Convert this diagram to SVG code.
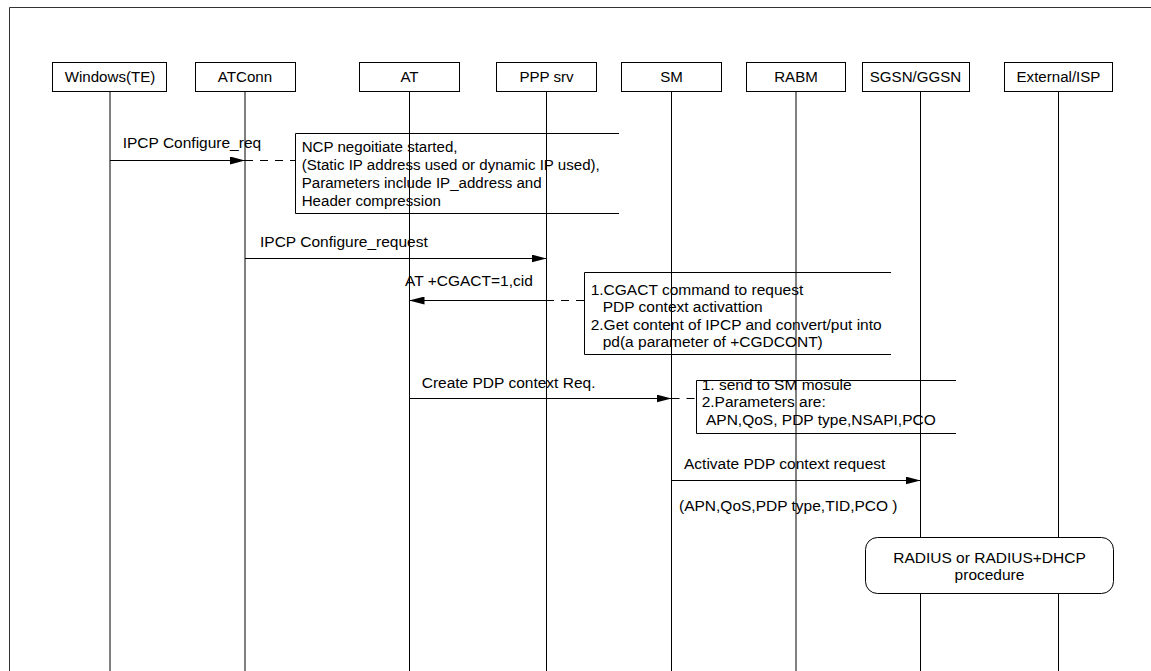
<svg xmlns="http://www.w3.org/2000/svg" width="1151" height="671" viewBox="0 0 1151 671">
<style>
text{font-family:"Liberation Sans",Arial,sans-serif;font-size:15.5px;fill:#000}
.c{text-anchor:middle}
.n15{font-size:15.1px}
.box{fill:#fff;stroke:#000;stroke-width:1}
.life{stroke:#000;stroke-width:1}
.msg{stroke:#000;stroke-width:1;fill:none}
.dash{stroke:#000;stroke-width:1;fill:none;stroke-dasharray:8 7}
.note{stroke:#000;stroke-width:1;fill:none}
</style>
<defs>
<marker id="ah" viewBox="0 0 15 8" refX="15" refY="4" markerWidth="15" markerHeight="8" orient="auto" markerUnits="userSpaceOnUse"><path d="M0,0 L15,4 L0,8 z" fill="#000"/></marker>
</defs>
<rect width="1151" height="671" fill="#fff"/>
<g id="frame"><path d="M9.5,671 V7.5 H1151" fill="none" stroke="#333" stroke-width="1"/></g>

<g id="windows">
<line class="life" x1="110" y1="91" x2="110" y2="671"/>
<rect class="box" x="52.5" y="62.5" width="114" height="29"/>
<text class="c n15" x="110" y="82">Windows(TE)</text>
</g>
<g id="atconn">
<line class="life" x1="245" y1="91" x2="245" y2="671"/>
<rect class="box" x="195.5" y="62.5" width="100" height="29"/>
<text class="c n15" x="245" y="82">ATConn</text>
</g>
<g id="at">
<line class="life" x1="409.5" y1="91" x2="409.5" y2="671"/>
<rect class="box" x="359.5" y="62.5" width="100" height="29"/>
<text class="c n15" x="409.5" y="82">AT</text>
</g>
<g id="pppsrv">
<line class="life" x1="546.5" y1="91" x2="546.5" y2="671"/>
<rect class="box" x="496.5" y="62.5" width="100" height="29"/>
<text class="c n15" x="546.5" y="82">PPP srv</text>
</g>
<g id="sm">
<line class="life" x1="671.5" y1="91" x2="671.5" y2="671"/>
<rect class="box" x="621.5" y="62.5" width="100" height="29"/>
<text class="c n15" x="671.5" y="82">SM</text>
</g>
<g id="rabm">
<line class="life" x1="796" y1="91" x2="796" y2="671"/>
<rect class="box" x="746.5" y="62.5" width="99" height="29"/>
<text class="c n15" x="796" y="82">RABM</text>
</g>
<g id="sgsn">
<line class="life" x1="920.5" y1="91" x2="920.5" y2="671"/>
<rect class="box" x="862.5" y="62.5" width="107" height="29"/>
<text class="c n15" x="915.5" y="82">SGSN/GGSN</text>
</g>
<g id="external">
<line class="life" x1="1058.5" y1="91" x2="1058.5" y2="671"/>
<rect class="box" x="1004.5" y="62.5" width="108" height="29"/>
<text class="c n15" x="1058.5" y="82">External/ISP</text>
</g>

<g id="note-ncp" class="n15">
<path class="note" d="M619,133.5 H295.5 V213.5 H619"/>
<text class="n15" x="301.7" y="152">NCP negoitiate started,</text>
<text class="n15" x="301.7" y="170">(Static IP address used or dynamic IP used),</text>
<text class="n15" x="301.7" y="188">Parameters include IP_address and</text>
<text class="n15" x="301.7" y="206">Header compression</text>
</g>
<g id="note-cgact">
<path class="note" d="M891,272.5 H584.5 V354.5 H891"/>
<text x="590.7" y="295">1.CGACT command to request</text>
<text x="602.7" y="312">PDP context activattion</text>
<text x="590.7" y="330">2.Get content of IPCP and convert/put into</text>
<text x="602.7" y="347">pd(a parameter of +CGDCONT)</text>
</g>
<g id="note-sm">
<path class="note" d="M956,380.5 H696.5 V433.5 H956"/>
<text x="701.7" y="390">1. send to SM mosule</text>
<text x="701.7" y="407">2.Parameters are:</text>
<text x="706" y="425">APN,QoS, PDP type,NSAPI,PCO</text>
</g>
<g id="radius">
<rect x="865.5" y="537.5" width="248" height="56" rx="12" ry="12" fill="#fff" stroke="#000" stroke-width="1"/>
<text class="c" x="989.5" y="562.5">RADIUS or RADIUS+DHCP</text>
<text class="c" x="989.5" y="579.5">procedure</text>
</g>

<g id="connectors">
<line class="msg" x1="110" y1="160.5" x2="245" y2="160.5" marker-end="url(#ah)"/>
<line class="dash" x1="245" y1="160.5" x2="295" y2="160.5"/>
<text x="122.7" y="148">IPCP Configure_req</text>

<line class="msg" x1="245" y1="258.5" x2="546.5" y2="258.5" marker-end="url(#ah)"/>
<text x="260" y="247">IPCP Configure_request</text>

<line class="msg" x1="546.5" y1="300.5" x2="409.5" y2="300.5" marker-end="url(#ah)"/>
<line class="dash" x1="584" y1="300.5" x2="546.5" y2="300.5"/>
<text x="405" y="286">AT +CGACT=1,cid</text>

<line class="msg" x1="409.5" y1="398.5" x2="671.5" y2="398.5" marker-end="url(#ah)"/>
<line class="dash" x1="671.5" y1="398.5" x2="696" y2="398.5"/>
<text x="421.7" y="388">Create PDP context Req.</text>

<line class="msg" x1="671.5" y1="480.5" x2="920.5" y2="480.5" marker-end="url(#ah)"/>
<text x="684" y="469">Activate PDP context request</text>
<text x="679" y="511">(APN,QoS,PDP type,TID,PCO )</text>
</g>
</svg>
